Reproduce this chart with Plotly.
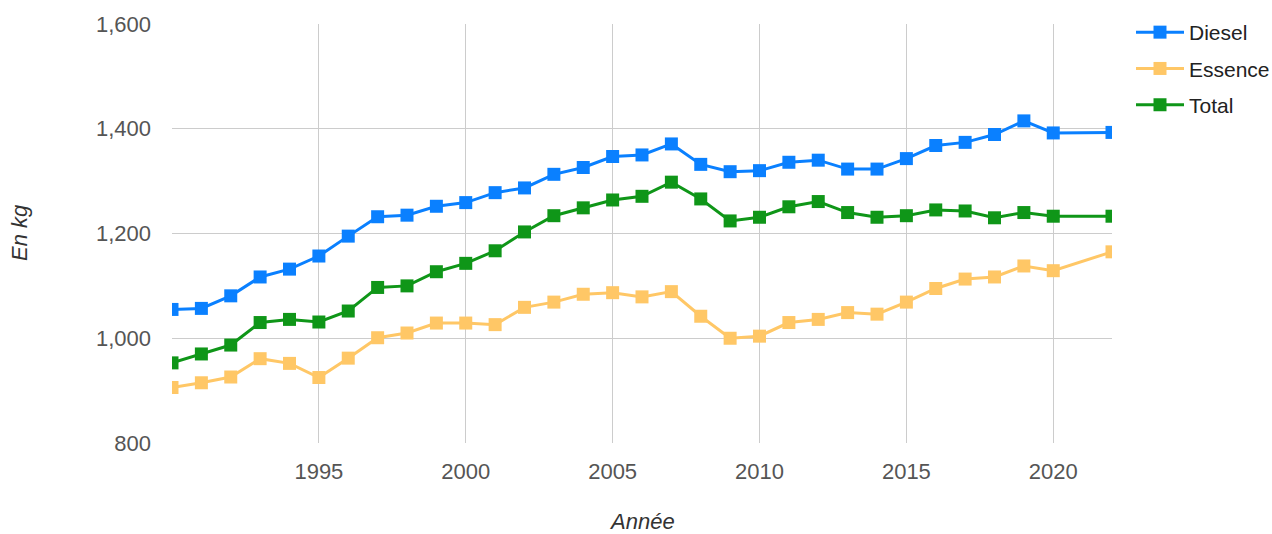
import plotly.graph_objects as go

years = [1990, 1991, 1992, 1993, 1994, 1995, 1996, 1997, 1998, 1999, 2000,
         2001, 2002, 2003, 2004, 2005, 2006, 2007, 2008, 2009, 2010,
         2011, 2012, 2013, 2014, 2015, 2016, 2017, 2018, 2019, 2020, 2022]

diesel = [1055, 1057, 1081, 1117, 1132, 1157, 1195, 1232, 1235, 1252, 1259,
          1278, 1287, 1313, 1326, 1347, 1350, 1371, 1332, 1318, 1320,
          1336, 1340, 1323, 1323, 1343, 1368, 1374, 1389, 1415, 1392, 1393]

essence = [906, 915, 926, 961, 952, 925, 962, 1001, 1010, 1029, 1029,
           1026, 1059, 1069, 1084, 1087, 1079, 1089, 1042, 1000, 1004,
           1030, 1036, 1049, 1046, 1069, 1095, 1113, 1117, 1138, 1129, 1165]

total = [953, 970, 987, 1030, 1036, 1031, 1052, 1097, 1100, 1127, 1143,
         1167, 1203, 1234, 1249, 1264, 1271, 1298, 1266, 1224, 1231,
         1251, 1261, 1240, 1231, 1234, 1245, 1243, 1230, 1240, 1233, 1233]

series = [("Diesel", diesel, "#0a80ff"),
          ("Essence", essence, "#ffc766"),
          ("Total", total, "#0f9618")]

x_ticks = [1995, 2000, 2005, 2010, 2015, 2020]
y_ticks = [800, 1000, 1200, 1400, 1600]

FONT = "Liberation Sans, Arial, sans-serif"

fig = go.Figure()
for i, (name, vals, col) in enumerate(series):
    fig.add_trace(go.Scatter(
        x=years, y=vals, name=name, mode="lines+markers",
        line=dict(color=col, width=3),
        marker=dict(symbol="square", size=13, color=col),
        legendgroup=f"g{i}",
    ))

W, H = 1272, 534
L, R, T, B = 172, 160, 24, 91
pw = W - L - R
ph = H - T - B

fig.update_layout(
    width=W, height=H,
    margin=dict(l=L, r=R, t=T, b=B, pad=0),
    paper_bgcolor="white", plot_bgcolor="white",
    font=dict(family=FONT, size=22, color="#444"),
    showlegend=True,
    legend=dict(xref="container", yref="container",
                x=1131 / W, y=1 - 12 / H, xanchor="left", yanchor="top",
                font=dict(size=21, color="#222"),
                tracegroupgap=6, itemwidth=48, bgcolor="rgba(0,0,0,0)"),
    xaxis=dict(range=[1990, 2022], tickvals=x_ticks,
               ticktext=[str(v) for v in x_ticks],
               showgrid=True, gridcolor="#cccccc", gridwidth=1,
               zeroline=False, showline=False, ticks="",
               ticklabelstandoff=13,
               tickfont=dict(size=22, color="#555")),
    yaxis=dict(range=[800, 1600], tickvals=y_ticks, tickformat=",",
               showgrid=True, gridcolor="#cccccc", gridwidth=1,
               zeroline=False, showline=False, ticks="",
               ticklabelstandoff=20,
               tickfont=dict(size=22, color="#555")),
    annotations=[
        dict(text="<i>Année</i>", xref="paper", yref="paper",
             x=0.5, y=-(521 - (T + ph)) / ph, xanchor="center", yanchor="middle",
             showarrow=False, font=dict(size=22, color="#333")),
        dict(text="<i>En kg</i>", xref="paper", yref="paper",
             x=-(L - 19) / pw, y=1 - (233 - T) / ph, xanchor="center", yanchor="middle",
             textangle=-90, showarrow=False, font=dict(size=22, color="#333")),
    ],
)

fig.write_html("out.html", config={"displayModeBar": False},
               post_script="document.body.style.margin='0';")
